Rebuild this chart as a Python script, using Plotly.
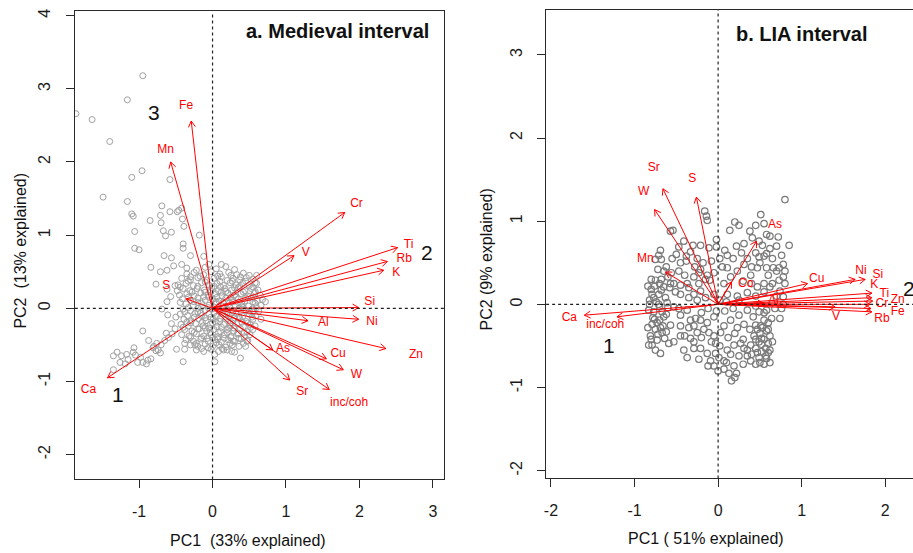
import math
import plotly.graph_objects as go

W, H = 913, 553
FONT = "Liberation Sans, Arial, sans-serif"

# ---------------- Panel a: Medieval interval ----------------
a_vars = ["Fe", "Mn", "S", "Ca", "Cr", "V", "Ti", "Rb", "K", "Si", "Ni", "Al",
          "Zn", "Cu", "W", "As", "Sr", "inc/coh"]
a_load_x = [-0.29, -0.57, -0.36, -1.43, 1.80, 1.11, 2.52, 2.38, 2.33, 1.99, 1.99, 1.30,
            2.36, 1.55, 1.78, 0.82, 1.05, 1.59]
a_load_y = [2.56, 2.00, 0.13, -0.95, 1.31, 0.72, 0.83, 0.64, 0.52, 0.01, -0.15, -0.17,
            -0.55, -0.69, -0.84, -0.57, -0.98, -1.11]
a_lab_x = [-0.36, -0.64, -0.63, -1.69, 1.96, 1.27, 2.67, 2.61, 2.50, 2.14, 2.17, 1.51,
           2.77, 1.71, 1.96, 0.96, 1.22, 1.86]
a_lab_y = [2.76, 2.17, 0.31, -1.12, 1.43, 0.76, 0.87, 0.68, 0.48, 0.09, -0.19, -0.20,
           -0.64, -0.63, -0.91, -0.55, -1.15, -1.30]
a_groups = ["1", "2", "3"]
a_group_x = [-1.29, 2.92, -0.80]
a_group_y = [-1.18, 0.76, 2.68]
a_xticks = [-1, 0, 1, 2, 3]
a_yticks = [-2, -1, 0, 1, 2, 3, 4]

a_outliers = [
    (-0.95, 3.18), (-1.86, 2.66), (-1.64, 2.58), (-1.16, 2.85), (-1.40, 2.28), (-0.96, 1.88),
    (-1.10, 1.79), (-0.58, 1.76), (-1.49, 1.52), (-1.16, 1.46), (-1.10, 1.29), (-1.08, 1.26),
    (-1.06, 1.05), (-1.06, 0.82), (-1.00, 0.80), (-0.85, 1.20), (-0.69, 1.40), (-0.71, 1.27),
    (-0.70, 1.17), (-0.58, 1.32), (-0.48, 1.32), (-0.46, 1.34), (-0.42, 1.37), (-0.67, 1.06),
    (-0.56, 1.04), (-0.64, 0.99), (-0.41, 1.22), (-0.39, 1.12), (-0.18, 1.00), (-0.40, 0.88),
    (-0.40, 0.82), (-0.30, 0.72), (-0.66, 0.72), (-0.56, 0.69), (-0.12, 0.71), (-0.84, 0.56),
    (-0.71, 0.50), (-0.62, 0.52), (-0.53, 0.58), (-0.42, 0.60), (-0.35, 0.55), (-0.77, 0.33),
    (-0.62, 0.26), (-0.51, 0.31), (-0.57, 0.16), (-0.62, 0.09), (-0.69, -0.01), (-0.61, -0.09),
    (-0.56, -0.21), (-0.51, -0.28), (-0.95, -0.31), (-0.87, -0.44), (-0.81, -0.54), (-0.77, -0.58),
    (-0.74, -0.57), (-0.71, -0.61), (-0.65, -0.44), (-0.63, -0.34), (-1.07, -0.54), (-1.05, -0.64),
    (-0.98, -0.67), (-1.02, -0.74), (-0.95, -0.74), (-0.88, -0.71), (-0.84, -0.69), (-0.90, -0.76),
    (-1.15, -0.70), (-1.19, -0.76), (-1.26, -0.74), (-1.30, -0.60), (-1.35, -0.65), (-1.24, -0.65),
    (-1.17, -0.63), (-1.35, -0.84), (-1.08, -0.60), (-0.40, -0.73), (-0.49, -0.56), (-0.38, -0.56),
    (-0.24, -0.50), (-0.06, -0.54), (0.03, -0.73), (0.03, -0.63), (0.15, -0.57), (0.26, -0.59),
    (0.38, -0.68), (0.28, -0.45), (0.07, -0.42), (0.48, -0.44), (0.72, 0.09), (0.60, 0.34),
    (-0.80, -0.52), (-0.76, -0.48), (-0.70, -0.50), (-0.60, -0.40), (-0.55, -0.35),
]

a_blob = [
    (-0.10, 0.56), (0.05, 0.54), (0.18, 0.57), (0.30, 0.53), (-0.22, 0.52),
    (-0.35, 0.47), (-0.25, 0.49), (-0.12, 0.46), (-0.02, 0.50), (0.10, 0.47), (0.22, 0.49),
    (0.33, 0.46), (0.42, 0.48), (0.50, 0.45),
    (-0.42, 0.41), (-0.30, 0.39), (-0.20, 0.42), (-0.08, 0.38), (0.02, 0.41), (0.12, 0.43),
    (0.20, 0.38), (0.28, 0.41), (0.37, 0.39), (0.46, 0.42), (0.55, 0.40),
    (-0.47, 0.32), (-0.36, 0.34), (-0.26, 0.31), (-0.15, 0.35), (-0.05, 0.32), (0.06, 0.34),
    (0.15, 0.31), (0.24, 0.35), (0.32, 0.32), (0.41, 0.34), (0.50, 0.31), (0.58, 0.35),
    (-0.40, 0.27), (-0.31, 0.24), (-0.21, 0.27), (-0.11, 0.25), (-0.01, 0.28), (0.08, 0.24),
    (0.17, 0.27), (0.26, 0.25), (0.35, 0.28), (0.44, 0.24), (0.53, 0.27), (0.62, 0.25),
    (-0.45, 0.18), (-0.35, 0.20), (-0.25, 0.17), (-0.16, 0.21), (-0.06, 0.18), (0.04, 0.20),
    (0.13, 0.17), (0.21, 0.21), (0.30, 0.18), (0.39, 0.20), (0.48, 0.17), (0.57, 0.21), (0.65, 0.18),
    (-0.41, 0.13), (-0.30, 0.11), (-0.20, 0.14), (-0.10, 0.11), (0.00, 0.13), (0.09, 0.10),
    (0.18, 0.14), (0.27, 0.11), (0.35, 0.13), (0.44, 0.10), (0.53, 0.14), (0.61, 0.11),
    (-0.36, 0.06), (-0.26, 0.04), (-0.15, 0.07), (-0.05, 0.04), (0.05, 0.06), (0.14, 0.03),
    (0.23, 0.07), (0.31, 0.04), (0.40, 0.06), (0.49, 0.03), (0.58, 0.07), (0.66, 0.04),
    (-0.40, -0.01), (-0.30, -0.03), (-0.20, 0.00), (-0.10, -0.03), (0.00, -0.01), (0.10, -0.04),
    (0.19, -0.01), (0.28, -0.03), (0.36, 0.00), (0.45, -0.03), (0.54, -0.01), (0.63, -0.04),
    (-0.44, -0.08), (-0.34, -0.10), (-0.24, -0.07), (-0.15, -0.10), (-0.05, -0.08), (0.05, -0.11),
    (0.14, -0.08), (0.23, -0.10), (0.32, -0.07), (0.41, -0.11), (0.50, -0.08), (0.59, -0.10),
    (-0.39, -0.15), (-0.29, -0.17), (-0.19, -0.14), (-0.09, -0.17), (0.01, -0.15), (0.10, -0.18),
    (0.19, -0.15), (0.28, -0.17), (0.37, -0.14), (0.46, -0.18), (0.55, -0.15),
    (-0.43, -0.22), (-0.33, -0.24), (-0.23, -0.21), (-0.13, -0.24), (-0.03, -0.22), (0.06, -0.25),
    (0.15, -0.22), (0.24, -0.24), (0.33, -0.21), (0.42, -0.25), (0.51, -0.22), (0.58, -0.24),
    (-0.38, -0.29), (-0.28, -0.31), (-0.18, -0.28), (-0.08, -0.31), (0.02, -0.29), (0.11, -0.32),
    (0.20, -0.29), (0.29, -0.31), (0.38, -0.28), (0.47, -0.32), (0.55, -0.29),
    (-0.42, -0.36), (-0.32, -0.38), (-0.22, -0.35), (-0.12, -0.38), (-0.02, -0.36), (0.07, -0.39),
    (0.16, -0.36), (0.25, -0.38), (0.34, -0.35), (0.43, -0.39), (0.51, -0.36),
    (-0.36, -0.43), (-0.26, -0.45), (-0.16, -0.42), (-0.06, -0.45), (0.03, -0.43), (0.12, -0.46),
    (0.21, -0.43), (0.30, -0.45), (0.39, -0.42), (0.47, -0.45),
    (-0.30, -0.50), (-0.20, -0.52), (-0.10, -0.49), (0.00, -0.52), (0.09, -0.50), (0.18, -0.53),
    (0.27, -0.50), (0.36, -0.52),
    (-0.22, -0.57), (-0.12, -0.59), (-0.02, -0.56), (0.08, -0.59), (0.20, -0.57), (0.30, -0.60),
    (-0.25, 0.09), (-0.15, 0.02), (-0.05, 0.15), (0.05, 0.09), (0.15, 0.00), (0.25, 0.15),
    (0.35, 0.08), (0.45, 0.14), (-0.20, -0.05), (-0.10, -0.13), (0.00, -0.20), (0.10, -0.14),
    (0.20, -0.06), (0.30, -0.13), (0.40, -0.19), (0.50, -0.04), (-0.30, -0.20), (-0.20, -0.28),
    (-0.05, -0.27), (0.08, -0.33), (0.22, -0.27), (0.35, -0.34), (0.12, 0.22), (0.02, 0.30),
    (-0.10, 0.22), (0.30, 0.28), (0.40, 0.02), (0.25, -0.40), (0.00, -0.40), (-0.15, -0.40),
    (-0.30, 0.43), (-0.17, 0.44), (0.07, 0.44), (0.25, 0.45), (0.38, 0.43),
    (-0.33, 0.37), (-0.10, 0.36), (0.10, 0.37), (0.27, 0.37), (0.45, 0.37),
    (-0.44, 0.29), (-0.20, 0.30), (0.11, 0.29), (0.37, 0.30), (0.55, 0.29),
    (-0.28, 0.22), (-0.02, 0.23), (0.18, 0.23), (0.42, 0.22), (0.58, 0.23),
    (-0.33, 0.15), (-0.12, 0.16), (0.06, 0.15), (0.32, 0.15), (0.50, 0.16),
    (-0.44, 0.08), (-0.20, 0.08), (0.14, 0.08), (0.28, 0.09), (0.55, 0.09),
    (-0.33, 0.01), (-0.06, 0.01), (0.23, 0.02), (0.42, 0.01), (0.60, 0.01),
    (-0.38, -0.05), (-0.16, -0.06), (0.02, -0.06), (0.27, -0.06), (0.55, -0.05),
    (-0.25, -0.12), (-0.02, -0.12), (0.18, -0.12), (0.36, -0.11), (0.54, -0.12),
    (-0.35, -0.19), (-0.14, -0.19), (0.05, -0.19), (0.24, -0.20), (0.48, -0.20),
    (-0.40, -0.26), (-0.10, -0.27), (0.12, -0.26), (0.29, -0.27), (0.52, -0.26),
    (-0.25, -0.33), (-0.03, -0.33), (0.20, -0.33), (0.43, -0.33),
    (-0.30, -0.40), (-0.07, -0.41), (0.16, -0.41), (0.36, -0.41),
    (-0.22, -0.48), (0.05, -0.47), (0.24, -0.48), (0.42, -0.48),
    (-0.15, -0.55), (0.13, -0.55),
    (-0.05, 0.60), (0.12, 0.60), (0.60, 0.45), (-0.48, 0.24), (-0.50, -0.12), (0.68, 0.12),
    (0.66, -0.15), (0.45, -0.52), (-0.38, -0.48),
]

# ---------------- Panel b: LIA interval ----------------
b_vars = ["Ca", "inc/coh", "Sr", "W", "S", "Mn", "As", "Co", "Cu", "Ni", "Si", "K",
          "Ti", "Zn", "Cr", "Fe", "Rb", "V", "Al"]
b_load_x = [-1.60, -1.21, -0.66, -0.76, -0.26, -0.63, 0.46, 0.16, 1.07, 1.64, 1.76, 1.84,
            1.84, 1.85, 1.82, 1.83, 1.84, 1.40, 0.55]
b_load_y = [-0.13, -0.15, 1.39, 1.14, 1.29, 0.39, 0.76, 0.27, 0.25, 0.30, 0.30, 0.135,
            0.08, 0.04, 0.00, -0.05, -0.09, -0.03, 0.01]
b_lab_x = [-1.78, -1.35, -0.77, -0.89, -0.31, -0.87, 0.68, 0.33, 1.18, 1.71, 1.91, 1.87,
           1.99, 2.15, 1.96, 2.15, 1.96, 1.41, 0.66]
b_lab_y = [-0.16, -0.25, 1.64, 1.35, 1.51, 0.54, 0.96, 0.25, 0.31, 0.40, 0.35, 0.23,
           0.12, 0.05, 0.00, -0.09, -0.18, -0.15, 0.04]
b_groups = ["1", "2"]
b_group_x = [-1.30, 2.28]
b_group_y = [-0.50, 0.19]
b_xticks = [-2, -1, 0, 1, 2]
b_yticks = [-2, -1, 0, 1, 2, 3]

b_scores = [
    (0.80, 1.26), (0.51, 1.08), (-0.16, 1.12), (-0.14, 1.06), (-0.13, 1.01), (0.20, 0.99),
    (0.25, 0.95), (0.45, 0.95), (0.55, 0.97), (0.58, 0.84), (0.62, 0.82), (0.72, 0.81),
    (0.85, 0.71), (0.14, 0.89), (0.38, 0.88), (0.31, 0.73), (0.22, 0.70), (0.41, 0.80),
    (0.49, 0.76), (0.53, 0.71), (0.62, 0.67), (0.58, 0.61), (0.76, 0.59), (0.78, 0.48),
    (0.73, 0.44), (0.66, 0.44), (0.58, 0.44), (0.49, 0.57), (0.47, 0.44), (0.39, 0.35),
    (0.31, 0.48), (0.23, 0.40), (0.11, 0.44), (0.11, 0.59), (0.08, 0.65), (-0.02, 0.78),
    (-0.02, 0.69), (-0.11, 0.68), (-0.21, 0.71), (-0.30, 0.71), (-0.33, 0.63), (-0.41, 0.76),
    (-0.47, 0.69), (-0.54, 0.89), (-0.57, 0.88), (-0.69, 0.65), (-0.71, 0.59), (-0.68, 0.54),
    (-0.75, 0.54), (-0.72, 0.42), (-0.65, 0.40), (-0.56, 0.38), (-0.47, 0.40), (-0.45, 0.50),
    (-0.53, 0.25), (-0.45, 0.23), (-0.37, 0.25), (-0.29, 0.33), (-0.21, 0.42), (-0.23, 0.38),
    (-0.13, 0.35), (-0.10, 0.29), (-0.23, 0.25), (-0.21, 0.16), (-0.29, 0.12), (-0.35, 0.08),
    (-0.45, 0.12), (-0.51, 0.15), (-0.57, 0.25), (-0.65, 0.21), (-0.75, 0.29), (-0.80, 0.30),
    (-0.71, 0.12), (-0.79, 0.12), (-0.77, 0.08), (-0.71, 0.00), (-0.82, 0.00), (-0.67, -0.09),
    (-0.77, -0.09), (-0.65, -0.15), (-0.73, -0.22), (-0.79, -0.24), (-0.69, -0.28), (-0.75, -0.30),
    (-0.67, -0.34), (-0.81, -0.38), (-0.73, -0.43), (-0.79, -0.49), (-0.75, -0.55), (-0.69, -0.59),
    (-0.83, -0.49), (-0.59, -0.47), (-0.53, -0.45), (-0.45, -0.38), (-0.57, -0.25), (-0.45, -0.26),
    (-0.41, -0.55), (-0.37, -0.64), (-0.29, -0.53), (-0.21, -0.53), (-0.23, -0.66), (-0.12, -0.74),
    (-0.03, -0.59), (-0.03, -0.47), (0.01, -0.64), (0.07, -0.68), (0.07, -0.78), (0.16, -0.92),
    (0.22, -0.83), (0.13, -0.83), (0.19, -0.74), (0.11, -0.55), (0.19, -0.49), (0.27, -0.47),
    (0.31, -0.53), (0.35, -0.62), (0.39, -0.68), (0.45, -0.72), (0.49, -0.64), (0.55, -0.72),
    (0.58, -0.65), (0.52, -0.57), (0.45, -0.53), (0.39, -0.49), (0.43, -0.38), (0.47, -0.30),
    (0.51, -0.26), (0.55, -0.19), (0.58, -0.32), (0.62, -0.38), (0.60, -0.47), (0.52, -0.41),
    (0.49, -0.45), (0.57, -0.53), (0.62, -0.55), (0.64, -0.17), (0.74, -0.17), (0.58, -0.07),
    (0.49, -0.09), (0.35, -0.07), (0.25, -0.13), (0.31, -0.24), (0.23, -0.28), (0.15, -0.19),
    (0.07, -0.26), (0.03, -0.34), (-0.05, -0.38), (-0.11, -0.34), (-0.17, -0.30), (-0.13, -0.22),
    (-0.05, -0.15), (-0.21, -0.19), (-0.27, -0.17), (-0.33, -0.19), (-0.29, -0.26), (-0.25, -0.34),
    (-0.33, -0.41), (-0.29, -0.45), (-0.13, -0.59), (-0.09, -0.68), (-0.05, -0.74), (-0.53, -0.03),
    (-0.47, -0.05), (-0.45, -0.13), (-0.37, -0.07), (-0.61, 0.02), (0.78, 0.09), (0.76, -0.05),
    (0.74, 0.16), (0.80, 0.25), (0.78, 0.33), (0.73, 0.29), (0.62, 0.21), (0.55, 0.25),
    (0.47, 0.21), (0.35, 0.14), (0.23, 0.10), (0.11, 0.12), (0.07, 0.25), (0.15, 0.33),
    (-0.84, 0.22), (-0.80, 0.18), (-0.76, 0.22), (-0.70, 0.25), (-0.68, 0.17), (-0.82, 0.05),
    (-0.74, 0.03), (-0.63, 0.08), (-0.60, -0.04), (-0.70, -0.03), (-0.83, -0.07), (-0.78, -0.16),
    (-0.70, -0.19), (-0.62, -0.12), (-0.84, -0.28), (-0.66, -0.26), (-0.62, -0.33), (-0.72, -0.36),
    (-0.80, -0.42), (-0.64, -0.41), (-0.76, -0.18), (-0.68, 0.30), (-0.60, 0.33), (-0.62, 0.45),
    (-0.55, 0.55), (-0.50, 0.60), (-0.58, 0.20),
    (-0.25, 0.55), (-0.18, 0.50), (-0.08, 0.52), (0.02, 0.55), (0.05, 0.45), (-0.05, 0.38),
    (-0.15, 0.30), (-0.28, 0.45), (-0.38, 0.52), (-0.40, 0.35), (-0.35, 0.20), (-0.25, 0.05),
    (-0.15, 0.08), (-0.05, 0.12), (0.02, 0.05), (0.10, 0.03), (0.18, -0.05), (0.08, -0.08),
    (-0.02, -0.08), (-0.12, -0.05), (-0.20, -0.10), (-0.35, -0.28), (-0.40, -0.38), (-0.20, -0.40),
    (-0.08, -0.45), (0.02, -0.50), (0.12, -0.40), (0.20, -0.35), (0.15, -0.60), (0.25, -0.62),
    (0.30, -0.72), (0.10, -0.70), (0.00, -0.80), (0.20, -0.88), (-0.38, 0.58), (0.18, 0.55),
    (0.28, 0.62), (0.35, 0.55),
    (0.45, -0.25), (0.50, -0.35), (0.55, -0.42), (0.60, -0.30), (0.52, -0.48), (0.47, -0.58),
    (0.57, -0.62), (0.62, -0.70), (0.40, -0.60), (0.45, -0.42), (0.55, -0.10), (0.60, -0.22),
    (0.38, -0.30), (0.42, -0.15), (0.50, -0.70), (0.35, -0.55), (0.30, -0.42), (0.65, -0.45),
    (0.60, -0.58), (0.53, -0.28),
    (0.45, 0.62), (0.55, 0.58), (0.65, 0.55), (0.70, 0.70), (0.50, 0.50), (0.40, 0.45),
    (0.60, 0.35), (0.70, 0.40), (0.80, 0.40), (0.65, 0.25), (0.55, 0.15), (0.45, 0.10),
    (0.40, 0.25), (0.30, 0.28), (0.70, 0.10), (0.78, 0.00), (0.68, -0.05), (0.45, -0.02),
    (0.25, 0.05),
]

# ---------------- Layout geometry (pixels) ----------------
A_PX = (73, 443, 8.5, 479)       # left, right, top, bottom
B_PX = (545.3, 913, 7, 478)
A_XR = [-1.875, 3.152]
A_YR = [-2.339, 4.058]
B_XR = [-2.058, 2.332]
B_YR = [-2.093, 3.54]


def dom_x(p):
    return [p[0] / W, p[1] / W]


def dom_y(p):
    return [(H - p[3]) / H, (H - p[2]) / H]


def arrow_trace(lx, ly, px, xr, yr, xa, ya):
    sx = (px[1] - px[0]) / (xr[1] - xr[0])
    sy = (px[3] - px[2]) / (yr[1] - yr[0])
    L = 7.0
    ang = math.radians(30)
    xs, ys = [], []
    for tx, ty in zip(lx, ly):
        dx, dy = tx * sx, ty * sy
        n = math.hypot(dx, dy)
        ux, uy = -dx / n, -dy / n
        bx = []
        for s in (1, -1):
            c, si = math.cos(s * ang), math.sin(s * ang)
            rx = ux * c - uy * si
            ry = ux * si + uy * c
            bx.append((tx + L * rx / sx, ty + L * ry / sy))
        xs += [0, tx, None, bx[0][0], tx, bx[1][0], None]
        ys += [0, ty, None, bx[0][1], ty, bx[1][1], None]
    return go.Scatter(x=xs, y=ys, mode="lines", line=dict(color="#ff0000", width=1),
                      xaxis=xa, yaxis=ya, hoverinfo="skip", showlegend=False)


fig = go.Figure()

a_pts = a_outliers + a_blob
fig.add_trace(go.Scatter(x=[p[0] for p in a_pts], y=[p[1] for p in a_pts], mode="markers",
                         marker=dict(symbol="circle-open", size=6, color="#a0a0a0",
                                     line=dict(width=1, color="#a0a0a0")),
                         xaxis="x", yaxis="y", showlegend=False))
fig.add_trace(arrow_trace(a_load_x, a_load_y, A_PX, A_XR, A_YR, "x", "y"))
fig.add_trace(go.Scatter(x=a_lab_x, y=a_lab_y, text=a_vars, mode="text",
                         textfont=dict(color="#ff0000", size=12, family=FONT),
                         xaxis="x", yaxis="y", showlegend=False))

fig.add_trace(go.Scatter(x=[p[0] for p in b_scores], y=[p[1] for p in b_scores], mode="markers",
                         marker=dict(symbol="circle-open", size=6.5, color="#7a7a7a",
                                     line=dict(width=1.2, color="#7a7a7a")),
                         xaxis="x2", yaxis="y2", showlegend=False))
fig.add_trace(arrow_trace(b_load_x, b_load_y, B_PX, B_XR, B_YR, "x2", "y2"))
fig.add_trace(go.Scatter(x=b_lab_x, y=b_lab_y, text=b_vars, mode="text",
                         textfont=dict(color="#ff0000", size=12, family=FONT),
                         xaxis="x2", yaxis="y2", showlegend=False))

axis_common = dict(showgrid=False, zeroline=False, showline=True, linecolor="#2a2a2a",
                   linewidth=1, ticks="outside", ticklen=8, tickcolor="#2a2a2a",
                   tickfont=dict(size=16, family=FONT, color="#1a1a1a"), ticklabelstandoff=9)

fig.update_layout(
    width=W, height=H, margin=dict(l=0, r=0, t=0, b=0),
    paper_bgcolor="white", plot_bgcolor="white",
    xaxis=dict(domain=dom_x(A_PX), range=A_XR, tickvals=a_xticks,
               ticktext=[str(v) for v in a_xticks], mirror=True, anchor="y", **axis_common),
    yaxis=dict(domain=dom_y(A_PX), range=A_YR, tickvals=a_yticks,
               ticktext=[str(v) for v in a_yticks], mirror=True, tickangle=-90, anchor="x",
               **axis_common),
    xaxis2=dict(domain=dom_x(B_PX), range=B_XR, tickvals=b_xticks,
                ticktext=[str(v) for v in b_xticks], mirror=True, anchor="y2", **axis_common),
    yaxis2=dict(domain=dom_y(B_PX), range=B_YR, tickvals=b_yticks,
                ticktext=[str(v) for v in b_yticks], mirror=False, tickangle=-90, anchor="x2",
                **axis_common),
)

# dotted reference lines through the origin
for xr_, yr_ in (("x", "y"), ("x2", "y2")):
    fig.add_shape(type="line", xref=xr_, yref=yr_ + " domain", x0=0, x1=0, y0=0, y1=1,
                  line=dict(color="#222222", width=1.2, dash="dot"))
    fig.add_shape(type="line", xref=xr_ + " domain", yref=yr_, x0=0, x1=1, y0=0, y1=0,
                  line=dict(color="#222222", width=1.2, dash="dot"))


def paper_text(text, px, py, size, angle=0):
    return dict(text=text, x=px / W, y=1 - py / H, xref="paper", yref="paper",
                xanchor="center", yanchor="middle", showarrow=False, textangle=angle,
                font=dict(size=size, family=FONT, color="#111111"))


ann = [
    paper_text("<b>a. Medieval interval</b>", 336, 28, 20),
    paper_text("<b>b. LIA interval</b>", 802, 31, 20),
    paper_text("PC1  (33% explained)", 247, 540, 16),
    paper_text("PC2  (13% explained)", 19, 249, 16, -90),
    paper_text("PC1 ( 51% explained)", 706, 538, 16),
    paper_text("PC2 (9% explained)", 486, 258, 16, -90),
]
for t, gx, gy in zip(a_groups, a_group_x, a_group_y):
    ann.append(dict(text=t, x=gx, y=gy, xref="x", yref="y", showarrow=False,
                    font=dict(size=21, family=FONT, color="#111111")))
for t, gx, gy in zip(b_groups, b_group_x, b_group_y):
    ann.append(dict(text=t, x=gx, y=gy, xref="x2", yref="y2", showarrow=False,
                    font=dict(size=21, family=FONT, color="#111111")))
fig.update_layout(annotations=ann)

fig.write_html("out.html")
